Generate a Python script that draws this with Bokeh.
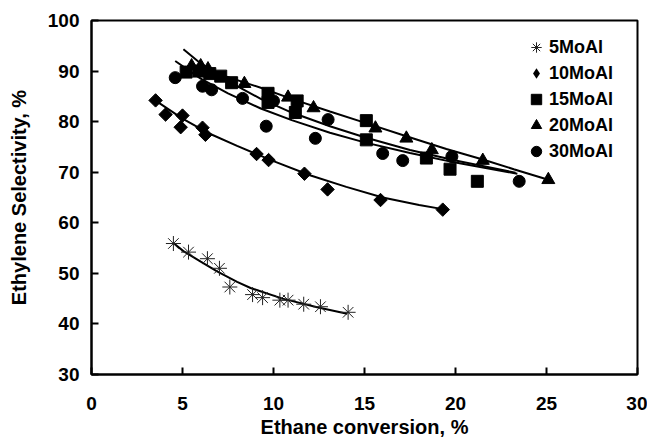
from bokeh.plotting import figure
from bokeh.models import Range1d, FixedTicker, Legend, LegendItem
from bokeh.embed import file_html
from bokeh.resources import INLINE
import math

# ---- data ----
x_ticks = [0, 5, 10, 15, 20, 25, 30]
y_ticks = [30, 40, 50, 60, 70, 80, 90, 100]

mo5_x = [4.5, 5.33, 6.37, 7.03, 7.6, 8.85, 9.4, 10.35, 10.8, 11.66, 12.58, 14.1]
mo5_y = [55.9, 54.2, 52.9, 51.0, 47.3, 45.8, 45.2, 44.7, 44.7, 43.9, 43.4, 42.3]

mo10_x = [3.52, 4.07, 5.0, 4.9, 6.1, 6.26, 9.07, 9.73, 11.7, 12.97, 15.88, 19.3]
mo10_y = [84.2, 81.4, 81.2, 78.9, 78.8, 77.4, 73.6, 72.4, 69.7, 66.6, 64.5, 62.6]

mo15_x = [5.2, 5.9, 6.5, 7.1, 7.7, 9.7, 9.7, 11.3, 11.2, 15.1, 15.1, 18.4, 19.7, 21.2]
mo15_y = [89.8, 90.0, 89.5, 89.0, 87.7, 85.6, 83.8, 84.1, 81.8, 80.2, 76.4, 72.8, 70.6, 68.2]

mo20_x = [5.5, 6.0, 6.4, 8.4, 10.8, 12.2, 15.6, 17.3, 18.7, 21.5, 25.1]
mo20_y = [91.0, 91.0, 90.4, 87.5, 84.8, 82.7, 78.7, 76.7, 74.4, 72.3, 68.5]

mo30_x = [4.6, 6.1, 6.6, 8.3, 9.6, 10.0, 12.3, 13.0, 16.0, 17.1, 19.8, 23.5]
mo30_y = [88.7, 87.0, 86.3, 84.6, 79.1, 84.1, 76.7, 80.4, 73.7, 72.3, 73.1, 68.2]

# trend lines
fit5_x = [4.5, 5.05, 6.0, 6.9, 8.0, 8.74, 10.5, 12.4, 14.05]
fit5_y = [56.0, 54.4, 52.3, 50.4, 48.3, 47.1, 45.0, 43.3, 42.0]

fit10_x = [3.5, 5.0, 6.5, 8.0, 10.0, 12.0, 14.0, 16.0, 18.0, 19.3]
fit10_y = [84.2, 80.6, 77.6, 75.2, 72.2, 69.4, 67.1, 65.0, 63.5, 62.7]

fit15_x = [5.05, 6.0, 7.5, 9.3, 11.0, 13.1, 15.0, 17.5, 20.0, 23.3]
fit15_y = [94.3, 91.5, 88.0, 84.5, 81.8, 79.1, 76.9, 74.4, 72.3, 69.9]

fit20_x = [5.5, 7.0, 9.3, 11.0, 13.1, 15.0, 17.3, 19.5, 21.5, 23.2, 25.1]
fit20_y = [91.2, 89.4, 86.7, 84.5, 82.0, 79.8, 77.1, 74.6, 72.5, 70.6, 68.5]

fit30_x = [4.6, 6.0, 7.5, 9.3, 11.0, 13.1, 15.0, 17.5, 20.0, 23.4]
fit30_y = [92.0, 88.5, 85.6, 82.6, 80.3, 77.8, 75.9, 73.8, 71.9, 69.7]

labels = ["5MoAl", "10MoAl", "15MoAl", "20MoAl", "30MoAl"]

FONT = "Liberation Sans"

p = figure(frame_width=546, frame_height=354,
           x_range=Range1d(0, 30), y_range=Range1d(30, 100),
           output_backend="svg", toolbar_location=None,
           min_border_left=91, min_border_right=10,
           min_border_top=20, min_border_bottom=60,
           background_fill_color="white", border_fill_color="white")

p.xgrid.visible = False
p.ygrid.visible = False
p.outline_line_color = "black"
p.outline_line_width = 2

for ax in (p.xaxis[0], p.yaxis[0]):
    ax.axis_line_width = 2
    ax.axis_line_color = "black"
    ax.major_tick_line_width = 2
    ax.major_tick_in = 7
    ax.major_tick_out = 0
    ax.minor_tick_line_color = None
    ax.major_label_text_font = FONT
    ax.major_label_text_font_style = "bold"
    ax.major_label_text_font_size = "19px"
    ax.major_label_text_color = "black"
    ax.axis_label_text_font = FONT
    ax.axis_label_text_font_style = "bold"
    ax.axis_label_text_font_size = "20px"
    ax.axis_label_text_color = "black"

p.xaxis.ticker = FixedTicker(ticks=x_ticks)
p.yaxis.ticker = FixedTicker(ticks=y_ticks)
p.xaxis.axis_label = "Ethane conversion, %"
p.yaxis.axis_label = "Ethylene Selectivity, %"
p.xaxis.major_label_standoff = 22
p.xaxis.axis_label_standoff = 3
p.yaxis.major_label_standoff = 12
p.yaxis.axis_label_standoff = 15

# trend lines
for fx, fy in [(fit5_x, fit5_y), (fit10_x, fit10_y), (fit15_x, fit15_y),
               (fit20_x, fit20_y), (fit30_x, fit30_y)]:
    p.line(fx, fy, line_color="black", line_width=2)

r5 = p.scatter(mo5_x, mo5_y, marker="asterisk", size=15,
               line_color="#222222", line_width=1)
r10 = p.scatter(mo10_x, mo10_y, marker="square", size=9.5, angle=math.pi / 4,
                fill_color="black", line_color="black")
# same points, drawn invisibly small, so that the legend shows a diamond
r10_key = p.scatter(mo10_x, mo10_y, marker="diamond", size=0.1,
                    fill_color="black", line_color=None)
r15 = p.scatter(mo15_x, mo15_y, marker="square", size=12,
                fill_color="black", line_color="black")
r20 = p.scatter(mo20_x, mo20_y, marker="triangle", size=13,
                fill_color="black", line_color="black")
r30 = p.scatter(mo30_x, mo30_y, marker="circle", size=12,
                fill_color="black", line_color="black")

legend = Legend(items=[LegendItem(label=l, renderers=[r])
                       for l, r in zip(labels, [r5, r10_key, r15, r20, r30])],
                location=(432, 210), glyph_width=26, glyph_height=26,
                spacing=0, label_standoff=0, padding=0, margin=0,
                border_line_color=None, background_fill_alpha=0,
                label_text_font=FONT, label_text_font_style="bold",
                label_text_font_size="18px", label_text_color="black")
p.add_layout(legend)

open("out.html", "w").write(file_html(p, INLINE))
